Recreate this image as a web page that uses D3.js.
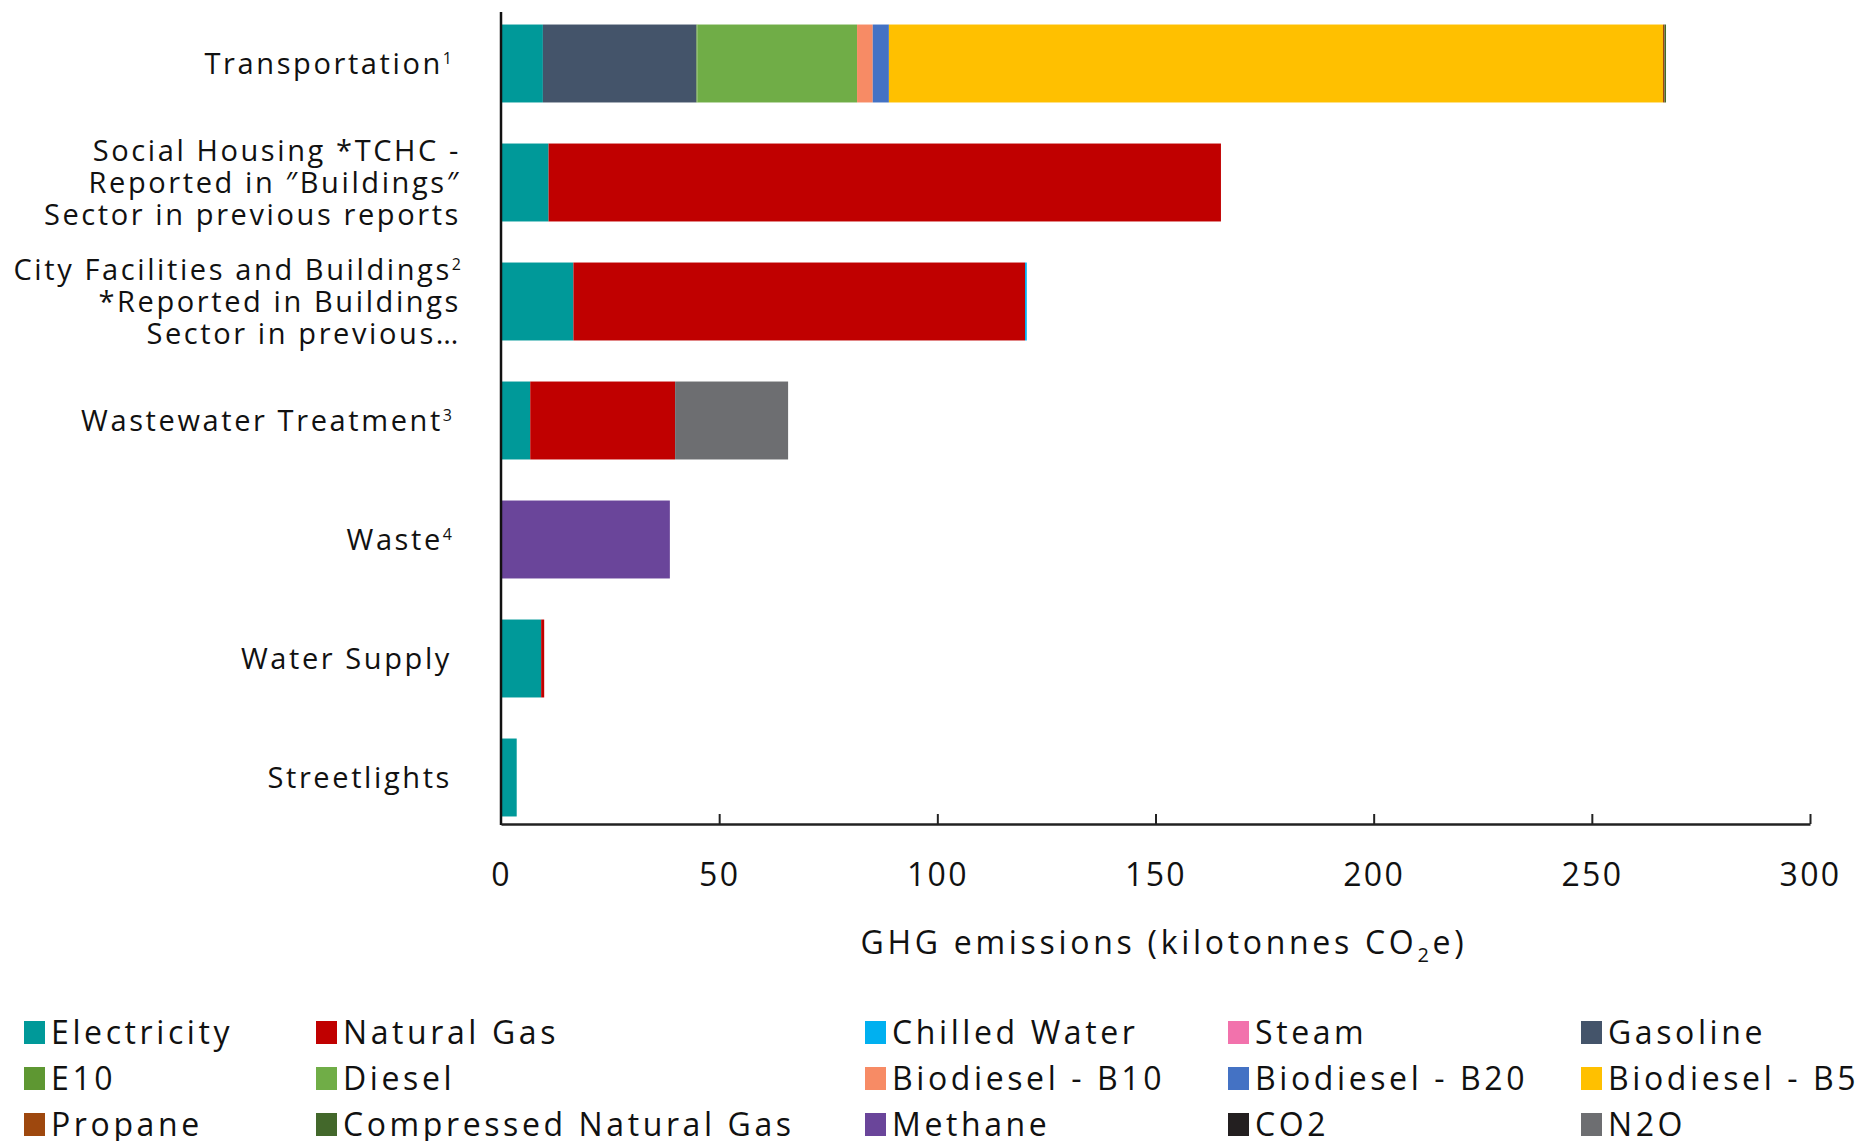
<!DOCTYPE html>
<html>
<head>
<meta charset="utf-8">
<script src="https://cdn.jsdelivr.net/npm/d3@7"></script>
<style>
  body { margin: 0; background: #fff; }
  text { font-family: 'Open Sans', sans-serif; fill: #111; }
</style>
</head>
<body>
<div id="chart"></div>
<script>
// categories, top to bottom
var categories = ["Transportation", "Social Housing", "City Facilities", "Wastewater Treatment",
  "Waste", "Water Supply", "Streetlights"];

// label lines for each category (second item is a superscript note)
var labelLines = [
  [["Transportation", "1"]],
  [["Social Housing *TCHC -", ""], ["Reported in \u2033Buildings\u2033", ""], ["Sector in previous reports", ""]],
  [["City Facilities and Buildings", "2"], ["*Reported in Buildings", ""], ["Sector in previous\u2026", ""]],
  [["Wastewater Treatment", "3"]],
  [["Waste", "4"]],
  [["Water Supply", ""]],
  [["Streetlights", ""]]
];

// series values (kilotonnes CO2e), same order as categories
var electricity   = [9.6, 10.9, 16.6, 6.7, 0, 9.2, 3.6];
var naturalGas    = [0, 154.1, 103.5, 33.2, 0, 0.7, 0];
var chilledWater  = [0, 0, 0.4, 0, 0, 0, 0];
var steam         = [0, 0, 0, 0, 0, 0, 0];
var gasoline      = [35.2, 0, 0, 0, 0, 0, 0];
var e10           = [0.2, 0, 0, 0, 0, 0, 0];
var diesel        = [36.6, 0, 0, 0, 0, 0, 0];
var biodieselB10  = [3.6, 0, 0, 0, 0, 0, 0];
var biodieselB20  = [3.7, 0, 0, 0, 0, 0, 0];
var biodieselB5   = [177.4, 0, 0, 0, 0, 0, 0];
var propane       = [0.35, 0, 0, 0, 0, 0, 0];
var cng           = [0.35, 0, 0, 0, 0, 0, 0];
var methane       = [0, 0, 0, 0, 38.7, 0, 0];
var co2           = [0, 0, 0, 0, 0, 0, 0];
var n2o           = [0, 0, 0, 25.9, 0, 0, 0];

var seriesNames = ["Electricity", "Natural Gas", "Chilled Water", "Steam", "Gasoline",
  "E10", "Diesel", "Biodiesel - B10", "Biodiesel - B20", "Biodiesel - B5",
  "Propane", "Compressed Natural Gas", "Methane", "CO2", "N2O"];
var seriesValues = [electricity, naturalGas, chilledWater, steam, gasoline,
  e10, diesel, biodieselB10, biodieselB20, biodieselB5,
  propane, cng, methane, co2, n2o];
var seriesColors = ["#009999", "#C00000", "#00B0F0", "#F272AC", "#44546A",
  "#5E9732", "#70AD47", "#F78B65", "#4472C4", "#FFC000",
  "#9E480E", "#43682B", "#6A459A", "#231F20", "#6D6E71"];

var xTicks = [0, 50, 100, 150, 200, 250, 300];

var svgWidth = 1864;
var svgHeight = 1141;

var plot = { left: 501, right: 1810, top: 12, bottom: 824 };

var svg = d3.select("#chart")
  .append("svg")
  .attr("width", svgWidth)
  .attr("height", svgHeight);

// build rows for the stack
var rows = categories.map(function(c, i) {
  var row = { category: c };
  seriesNames.forEach(function(s, j) { row[s] = seriesValues[j][i]; });
  return row;
});

var stacked = d3.stack().keys(seriesNames)(rows);

var xScale = d3.scaleLinear()
  .domain([0, 300])
  .range([plot.left, plot.right]);

var yScale = d3.scaleBand()
  .domain(categories)
  .range([4, 837])
  .paddingInner(0.345)
  .paddingOuter(0.1725);

var color = d3.scaleOrdinal().domain(seriesNames).range(seriesColors);

// bars
svg.append("g")
  .selectAll("g")
  .data(stacked)
  .enter()
  .append("g")
  .attr("fill", d => color(d.key))
  .selectAll("rect")
  .data(d => d)
  .enter()
  .append("rect")
  .attr("x", d => xScale(d[0]))
  .attr("y", d => yScale(d.data.category))
  .attr("width", d => Math.max(0, xScale(d[1]) - xScale(d[0])))
  .attr("height", yScale.bandwidth());

// y axis line
svg.append("line")
  .attr("x1", plot.left).attr("x2", plot.left)
  .attr("y1", plot.top).attr("y2", plot.bottom + 1)
  .attr("stroke", "#111")
  .attr("stroke-width", 2.5);

// x axis with inward ticks
var bottomAxis = d3.axisBottom(xScale)
  .tickValues(xTicks)
  .tickSizeInner(-10)
  .tickSizeOuter(0)
  .tickPadding(0)
  .tickFormat(d3.format("d"));

var xAxis = svg.append("g")
  .attr("transform", `translate(0, ${plot.bottom})`)
  .call(bottomAxis);

xAxis.select(".domain").attr("stroke", "#222").attr("stroke-width", 2.5);
xAxis.selectAll(".tick line").attr("stroke", "#222").attr("stroke-width", 2);
xAxis.selectAll(".tick").filter(d => d === 0).select("line").remove();
xAxis.selectAll(".tick text")
  .attr("y", 62)
  .attr("dy", 0)
  .style("font-size", "32px")
  .style("letter-spacing", "2.3px")
  .attr("fill", "#111");

// x axis title
var title = svg.append("text")
  .attr("x", 1164)
  .attr("y", 954)
  .attr("text-anchor", "middle")
  .style("font-size", "32px")
  .style("letter-spacing", "3.7px");
title.append("tspan").text("GHG emissions (kilotonnes CO");
title.append("tspan").attr("dy", 8).style("font-size", "20px").text("2");
title.append("tspan").attr("dy", -8).text("e)");

// category labels
var lineGap = 32;
categories.forEach(function(c, i) {
  var lines = labelLines[i];
  var cy = yScale(c) + yScale.bandwidth() / 2;
  var multi = lines.length > 1;
  var xr = multi ? 461 : 452;
  lines.forEach(function(ln, k) {
    var t = svg.append("text")
      .attr("x", xr)
      .attr("y", cy + (k - (lines.length - 1) / 2) * lineGap + 10)
      .attr("text-anchor", "end")
      .style("font-size", "29px")
      .style("letter-spacing", "2.6px");
    t.append("tspan").text(ln[0]);
    if (ln[1]) {
      t.append("tspan")
        .attr("dy", -10)
        .style("font-size", "16px")
        .style("letter-spacing", "0px")
        .text(ln[1]);
    }
  });
});

// legend
var legendCols = [24, 316, 865, 1228, 1581];
var legendRows = [1021, 1067, 1113];

var legend = svg.append("g")
  .selectAll("g")
  .data(seriesNames)
  .enter()
  .append("g")
  .attr("transform", (d, i) => `translate(${legendCols[i % 5]}, ${legendRows[Math.floor(i / 5)]})`);

legend.append("rect")
  .attr("width", 21)
  .attr("height", 23)
  .attr("fill", d => color(d));

legend.append("text")
  .attr("x", 27)
  .attr("y", 23)
  .style("font-size", "32px")
  .style("letter-spacing", "3.6px")
  .text(d => d);
</script>
</body>
</html>
